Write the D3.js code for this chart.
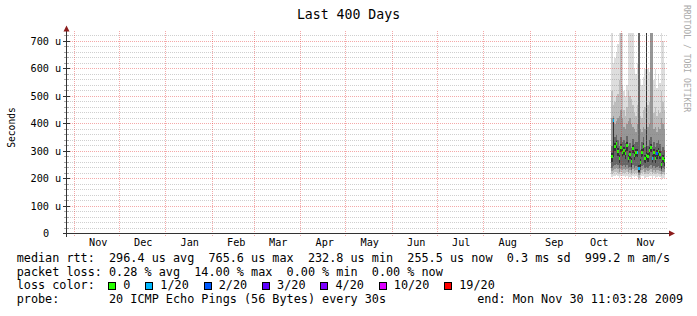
<!DOCTYPE html>
<html lang="en">
<head>
<meta charset="UTF-8">
<script src="https://d3js.org/d3.v7.min.js"></script>
<title>Last 400 Days</title>
<style>
  body { margin: 0; background: #fff; }
  svg text { font-family: "DejaVu Sans Mono", monospace; white-space: pre; }
</style>
</head>
<body>
<div id="chart"></div>
<script>
// ---- data ----
const endTime = new Date(Date.UTC(2009, 10, 30, 11, 3, 28));
const firstDay = new Date(Date.UTC(2009, 9, 25));
const yMax = 728;

// one entry per day, Oct 25 .. Nov 29 2009 (values in microseconds)
const median = [280,412,318,328,300,274,315,297,303,291,320,275,288,262,310,285,297,296,236,260,297,318,275,285,280,302,315,274,297,274,291,300,288,250,274,265];
const loss   = [0,1,0,0,0,0,0,0,0,0,0,0,0,0,0,0,0,1,1,0,0,0,0,0,0,0,0,1,0,0,2,0,0,0,0,0];

// smoke bands, outermost first
const hi1 = [760,620,640,660,690,760,760,760,520,500,540,760,760,760,760,600,580,620,760,560,540,570,600,760,600,590,760,760,560,600,530,580,550,760,700,620];
const lo1 = [206,208,210,212,209,204,210,208,209,206,210,204,207,200,209,205,208,207,195,200,208,210,204,206,205,208,210,204,208,204,206,208,205,196,204,202];
const hi2 = [520,470,480,500,510,560,760,540,450,430,460,520,500,490,470,440,430,470,760,430,420,450,460,760,470,480,760,760,440,460,430,450,440,520,480,450];
const lo2 = [218,220,224,226,222,216,224,221,222,219,224,216,219,212,222,218,220,220,204,212,220,224,216,219,218,221,224,216,220,216,219,221,218,208,216,214];
const hi3 = [420,430,400,410,420,430,450,420,390,380,400,410,420,400,390,380,370,400,760,380,370,390,380,760,390,400,760,760,380,390,370,390,380,420,400,380];
const lo3 = [228,230,235,238,234,226,235,232,234,230,236,226,230,222,234,228,232,231,212,222,232,236,226,230,228,233,236,226,232,226,230,233,228,218,226,224];
const hi4 = [320,420,350,360,340,320,350,335,340,330,355,320,330,310,345,325,335,335,760,305,335,350,315,760,320,340,350,315,335,315,330,340,325,300,315,305];
const lo4 = [240,245,250,255,248,238,250,245,248,242,250,238,242,232,248,240,245,244,220,232,245,250,238,242,240,246,250,238,245,238,242,246,240,228,238,235];
const hi5 = [292,414,330,340,312,286,327,309,315,303,332,287,300,274,322,297,309,308,248,272,309,330,287,760,292,314,327,286,309,286,303,312,300,262,286,277];
const lo5 = [262,278,300,310,282,256,297,279,285,273,302,257,270,244,292,267,279,278,225,242,279,300,257,267,262,284,297,256,279,256,273,282,270,235,256,247];
const smokeColors = ["#dddddd", "#bdbdbd", "#979797", "#666666", "#333333"];

const yTicks = [0, 100, 200, 300, 400, 500, 600, 700];
const yTickLabels = ["0", "100 u", "200 u", "300 u", "400 u", "500 u", "600 u", "700 u"];
const yMinorStep = 20;

const monthTicks = ["2008-11-01","2008-12-01","2009-01-01","2009-02-01","2009-03-01","2009-04-01","2009-05-01","2009-06-01","2009-07-01","2009-08-01","2009-09-01","2009-10-01","2009-11-01"];
const monthLabels = ["Nov","Dec","Jan","Feb","Mar","Apr","May","Jun","Jul","Aug","Sep","Oct","Nov"];

const lossThresholds = [0, 1, 2, 3, 4, 10, 19];
const lossLabels = ["0", "1/20", "2/20", "3/20", "4/20", "10/20", "19/20"];
const lossColors = ["#26ff00", "#00b8ff", "#0059ff", "#5e00ff", "#7e00ff", "#dd00ff", "#ff0000"];

const legendRows = [
  "median rtt:  296.4 us avg  765.6 us max  232.8 us min  255.5 us now  0.3 ms sd  999.2 m am/s",
  "packet loss: 0.28 % avg  14.00 % max  0.00 % min  0.00 % now",
  "loss color:",
  "probe:       20 ICMP Echo Pings (56 Bytes) every 30s"
];
const endLabel = "end: Mon Nov 30 11:03:28 2009";

// ---- drawing ----
const W = 697, H = 316;
const plot = {left: 66, right: 666, top: 33.8, bottom: 233.5};
const startTime = new Date(endTime.getTime() - 400 * 864e5);
const days = median.map((d, i) => d3.utcDay.offset(firstDay, i));

const x = d3.scaleUtc().domain([startTime, endTime]).range([plot.left, plot.right]);
const y = d3.scaleLinear().domain([0, yMax]).range([plot.bottom, plot.top]);
const px = v => Math.floor(v) + 0.5;

function lossColor(n) {
    let idx = 0;
    lossThresholds.forEach((t, i) => { if (n >= t) idx = i; });
    return lossColors[idx];
}

const svg = d3.select("#chart").append("svg")
    .attr("width", W).attr("height", H);
svg.append("rect").attr("width", W).attr("height", H).attr("fill", "#fff");

svg.append("clipPath").attr("id", "clip").append("rect")
    .attr("x", plot.left).attr("y", 33)
    .attr("width", plot.right - plot.left).attr("height", plot.bottom - 33);

// smoke
const smoke = svg.append("g").attr("clip-path", "url(#clip)").attr("shape-rendering", "crispEdges");
const bands = [[lo1, hi1], [lo2, hi2], [lo3, hi3], [lo4, hi4], [lo5, hi5]];
bands.forEach((b, k) => {
    smoke.append("g").selectAll("rect")
        .data(days).enter().append("rect")
        .attr("x", d => x(d))
        .attr("width", d => x(d3.utcDay.offset(d, 1)) - x(d))
        .attr("y", (d, i) => y(b[1][i]))
        .attr("height", (d, i) => y(b[0][i]) - y(b[1][i]))
        .attr("fill", smokeColors[k]);
});

// median ticks coloured by loss
smoke.append("g").selectAll("rect")
    .data(days).enter().append("rect")
    .attr("x", d => x(d))
    .attr("width", d => x(d3.utcDay.offset(d, 1)) - x(d))
    .attr("y", (d, i) => y(median[i]) - 1.5)
    .attr("height", 3)
    .attr("fill", (d, i) => lossColor(loss[i]));

// grid (drawn over the data, semi transparent like rrdtool)
const grid = svg.append("g").attr("shape-rendering", "crispEdges");
const minorY = d3.range(yMinorStep, yMax, yMinorStep).filter(v => !yTicks.includes(v));
grid.selectAll(".minor").data(minorY).enter().append("line")
    .attr("x1", plot.left).attr("x2", plot.right + 2)
    .attr("y1", d => px(y(d))).attr("y2", d => px(y(d)))
    .attr("stroke", "rgba(128,128,128,0.38)").attr("stroke-dasharray", "1,1");
grid.selectAll(".majorY").data(yTicks.slice(1)).enter().append("line")
    .attr("x1", plot.left).attr("x2", plot.right + 2)
    .attr("y1", d => px(y(d))).attr("y2", d => px(y(d)))
    .attr("stroke", "rgba(225,30,30,0.38)").attr("stroke-dasharray", "1,1");
grid.selectAll(".majorX").data(monthTicks).enter().append("line")
    .attr("x1", d => px(x(new Date(d)))).attr("x2", d => px(x(new Date(d))))
    .attr("y1", 31).attr("y2", 237)
    .attr("stroke", "rgba(225,30,30,0.38)").attr("stroke-dasharray", "1,1");

// y ticks
grid.selectAll(".ytk").data(minorY).enter().append("line")
    .attr("x1", 64).attr("x2", 69)
    .attr("y1", d => px(y(d))).attr("y2", d => px(y(d)))
    .attr("stroke", "#aaa");
grid.selectAll(".ytkM").data(yTicks).enter().append("line")
    .attr("x1", 63).attr("x2", 70)
    .attr("y1", d => px(y(d))).attr("y2", d => px(y(d)))
    .attr("stroke", "#333");

// axes
const axisCol = "#333", arrowCol = "#8c1c1c";
grid.append("line").attr("x1", 66.5).attr("x2", 66.5).attr("y1", 237).attr("y2", 30)
    .attr("stroke", axisCol);
grid.append("line").attr("x1", 63).attr("x2", 670).attr("y1", 233.5).attr("y2", 233.5)
    .attr("stroke", axisCol);
svg.append("path").attr("d", "M66.5,25.5L63.5,31.5L69.5,31.5Z").attr("fill", arrowCol);
svg.append("path").attr("d", "M675,233.5L669,230.5L669,236.5Z").attr("fill", arrowCol);

// y labels
svg.selectAll(".ylab").data(yTicks).enter().append("text")
    .attr("x", (d, i) => i === 0 ? 49.2 : 61.2)
    .attr("y", d => px(y(d)) + 3.6)
    .attr("text-anchor", "end")
    .attr("font-size", "10.2px")
    .text((d, i) => yTickLabels[i]);

// month labels
svg.selectAll(".xlab").data(monthTicks).enter().append("text")
    .attr("x", d => x(d3.utcDay.offset(new Date(d), 16)))
    .attr("y", 245.7)
    .attr("text-anchor", "middle")
    .attr("font-size", "10.2px")
    .text((d, i) => monthLabels[i]);

// title, unit, watermark
svg.append("text").attr("x", 348.5).attr("y", 18.5).attr("text-anchor", "middle")
    .attr("font-size", "13.2px").text("Last 400 Days");
svg.append("text").attr("transform", "translate(14.5,127.5) rotate(-90)")
    .attr("text-anchor", "middle").attr("font-size", "9.6px").text("Seconds");
svg.append("text").attr("transform", "translate(684,5) rotate(90)")
    .attr("font-size", "8.1px").attr("fill", "#aaaaaa").text("RRDTOOL / TOBI OETIKER");

// legend
const lx = 16.7, ch = 7.09;
const rowY = [262, 275.7, 289.3, 303];
legendRows.forEach((r, i) => {
    svg.append("text").attr("x", lx).attr("y", rowY[i]).attr("font-size", "11.8px").text(r);
});
svg.append("text").attr("x", lx + 94 * ch).attr("y", rowY[3]).attr("text-anchor", "end")
    .attr("font-size", "11.8px").text(endLabel);

let cx = lx + 13 * ch - 0.6;
lossLabels.forEach((lab, i) => {
    svg.append("rect").attr("x", Math.round(cx) + 0.5).attr("y", 282.5)
        .attr("width", 7).attr("height", 7)
        .attr("fill", lossColors[i]).attr("stroke", "#000");
    svg.append("text").attr("x", cx + 15).attr("y", rowY[2])
        .attr("font-size", "11.8px").text(lab);
    cx += 15 + lab.length * ch + 15;
});
</script>
</body>
</html>
